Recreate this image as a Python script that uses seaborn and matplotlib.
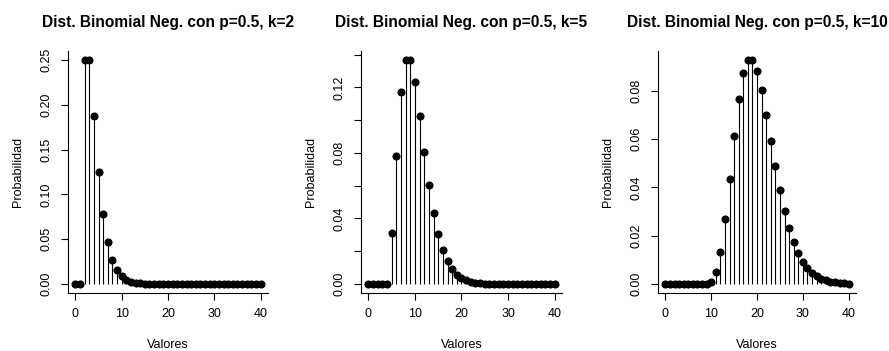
import numpy as np
import pandas as pd
import seaborn as sns
import matplotlib
matplotlib.use("Agg")
import matplotlib.pyplot as plt

# valores x (numero de ensayos) y probabilidades
valores = list(range(41))

prob_k2 = [0, 0, 0.25, 0.25, 0.1875, 0.125, 0.0781, 0.0469, 0.0273, 0.0156,
           0.0088, 0.0049, 0.0027, 0.0015, 0.0008, 0.0004, 0.0002, 0.0001, 0.0001,
           0, 0, 0, 0, 0, 0, 0, 0, 0, 0, 0, 0, 0, 0, 0, 0, 0, 0, 0, 0, 0, 0]

prob_k5 = [0, 0, 0, 0, 0, 0.0313, 0.0781, 0.1172, 0.1367, 0.1367,
           0.1230, 0.1025, 0.0806, 0.0604, 0.0436, 0.0305, 0.0208, 0.0139, 0.0091,
           0.0058, 0.0037, 0.0023, 0.0014, 0.0009, 0.0005, 0.0003, 0.0002, 0.0001,
           0.0001, 0, 0, 0, 0, 0, 0, 0, 0, 0, 0, 0, 0]

prob_k10 = [0, 0, 0, 0, 0, 0, 0, 0, 0, 0,
            0.0010, 0.0049, 0.0134, 0.0269, 0.0436, 0.0611, 0.0764, 0.0873, 0.0927,
            0.0927, 0.0881, 0.0801, 0.0701, 0.0593, 0.0487, 0.0390, 0.0304, 0.0233,
            0.0175, 0.0129, 0.0093, 0.0067, 0.0047, 0.0033, 0.0022, 0.0015, 0.0010,
            0.0007, 0.0005, 0.0003, 0.0002]

k_values = [2, 5, 10]
series = [prob_k2, prob_k5, prob_k10]
y_ticks = [[0, 0.05, 0.10, 0.15, 0.20, 0.25],
           [0, 0.02, 0.04, 0.06, 0.08, 0.10, 0.12, 0.14],
           [0, 0.02, 0.04, 0.06, 0.08]]
y_labels = [["0.00", "0.05", "0.10", "0.15", "0.20", "0.25"],
            ["0.00", "", "0.04", "", "0.08", "", "0.12", ""],
            ["0.00", "0.02", "0.04", "0.06", "0.08"]]
x_ticks = [0, 10, 20, 30, 40]

sns.set_style("ticks")
plt.rcParams['font.family'] = ['Liberation Sans', 'DejaVu Sans']
plt.rcParams['text.color'] = 'black'
plt.rcParams['axes.labelcolor'] = 'black'
plt.rcParams['xtick.color'] = 'black'
plt.rcParams['ytick.color'] = 'black'

W, H = 889, 351
fig = plt.figure(figsize=(W / 100, H / 100), dpi=100)

# posiciones de los paneles en pixeles
lefts = [68, 361, 658]
widths = [200, 201, 198]
top, bottom = 51, 293

for i in range(3):
    ax = fig.add_axes([lefts[i] / W, (H - bottom) / H, widths[i] / W, (bottom - top) / H])
    df = pd.DataFrame({'Valores': valores, 'Probabilidad': series[i]})

    ax.vlines(df['Valores'], 0, df['Probabilidad'], color='black', linewidth=0.8)
    sns.scatterplot(x='Valores', y='Probabilidad', data=df, ax=ax,
                    color='black', s=34, edgecolor='black', linewidth=0, zorder=3)

    m = max(series[i])
    ax.set_xlim(-1.6, 41.6)
    ax.set_ylim(-0.04 * m, 1.04 * m)
    ax.set_xticks(x_ticks)
    ax.set_xticklabels([str(t) for t in x_ticks])
    ax.set_yticks(y_ticks[i])
    ax.set_yticklabels(y_labels[i], rotation=90, va='center')

    ax.tick_params(axis='both', length=5, width=0.8, labelsize=9, color='black',
                   labelcolor='black')
    ax.tick_params(axis='x', pad=5.5)
    ax.tick_params(axis='y', pad=6.5)

    for s in ['top', 'right']:
        ax.spines[s].set_visible(False)
    for s in ['left', 'bottom']:
        ax.spines[s].set_linewidth(0.8)
        ax.spines[s].set_color('black')

    ax.set_title(f"Dist. Binomial Neg. con p=0.5, k={k_values[i]}",
                 fontsize=11.2, fontweight='bold', pad=17, color='black')
    ax.set_xlabel('Valores', fontsize=9)
    ax.set_ylabel('Probabilidad', fontsize=9)
    ax.xaxis.set_label_coords(0.5, -0.215)
    ax.xaxis.label.set_va('center')
    ax.yaxis.set_label_coords(-0.25, 0.5)
    ax.yaxis.label.set_va('center')

fig.savefig('out.png', dpi=100)
